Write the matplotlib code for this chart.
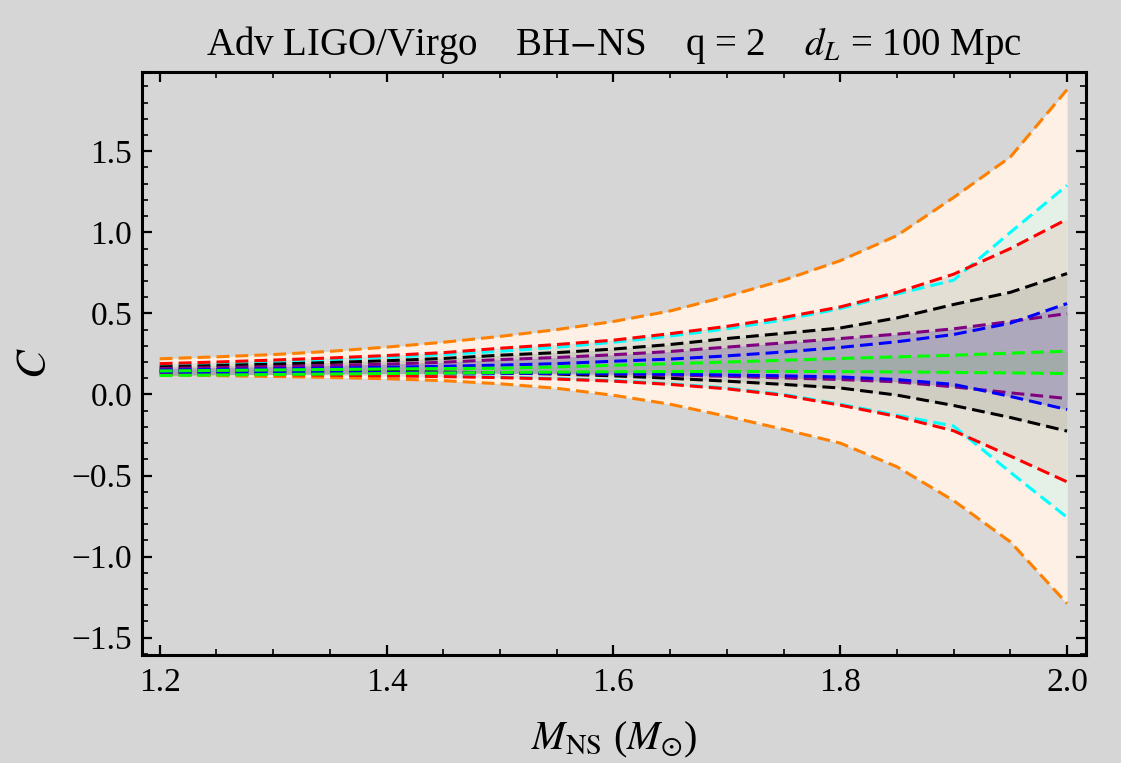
import matplotlib
matplotlib.use("Agg")
import matplotlib.pyplot as plt
from matplotlib.ticker import MultipleLocator, FuncFormatter

plt.rcParams['font.family'] = ['Liberation Serif', 'DejaVu Serif']
plt.rcParams['mathtext.fontset'] = 'stix'

# ---- data ----
m_ns = [1.2, 1.25, 1.3, 1.35, 1.4, 1.45, 1.5, 1.55, 1.6, 1.65, 1.7, 1.75, 1.8, 1.85, 1.9, 1.95, 2.0]

orange_u = [0.220, 0.232, 0.246, 0.266, 0.292, 0.322, 0.358, 0.400, 0.450, 0.515, 0.605, 0.705, 0.825, 0.980, 1.215, 1.465, 1.880]
orange_l = [0.120, 0.116, 0.111, 0.105, 0.097, 0.085, 0.066, 0.038, -0.005, -0.060, -0.135, -0.215, -0.300, -0.446, -0.655, -0.909, -1.290]

cyan_u = [0.180, 0.190, 0.201, 0.214, 0.229, 0.246, 0.266, 0.291, 0.322, 0.360, 0.405, 0.460, 0.530, 0.620, 0.705, 1.000, 1.290]
cyan_l = [0.130, 0.128, 0.126, 0.123, 0.119, 0.114, 0.107, 0.098, 0.086, 0.066, 0.040, 0.000, -0.060, -0.128, -0.195, -0.480, -0.758]

red_u = [0.190, 0.200, 0.212, 0.225, 0.240, 0.258, 0.285, 0.308, 0.335, 0.375, 0.420, 0.475, 0.540, 0.630, 0.742, 0.900, 1.081]
red_l = [0.127, 0.125, 0.122, 0.119, 0.115, 0.110, 0.104, 0.095, 0.082, 0.062, 0.035, -0.005, -0.066, -0.136, -0.224, -0.380, -0.539]

black_u = [0.170, 0.178, 0.187, 0.197, 0.208, 0.222, 0.242, 0.258, 0.280, 0.308, 0.345, 0.377, 0.410, 0.472, 0.555, 0.630, 0.746]
black_l = [0.150, 0.149, 0.147, 0.145, 0.142, 0.138, 0.133, 0.126, 0.115, 0.100, 0.082, 0.062, 0.040, -0.004, -0.068, -0.142, -0.226]

purple_u = [0.160, 0.166, 0.172, 0.179, 0.187, 0.199, 0.215, 0.228, 0.245, 0.265, 0.292, 0.318, 0.345, 0.372, 0.405, 0.450, 0.499]
purple_l = [0.140, 0.139, 0.138, 0.137, 0.136, 0.135, 0.133, 0.130, 0.126, 0.120, 0.112, 0.102, 0.092, 0.078, 0.047, 0.010, -0.025]

blue_u = [0.150, 0.154, 0.158, 0.163, 0.168, 0.174, 0.181, 0.190, 0.205, 0.218, 0.238, 0.262, 0.290, 0.325, 0.370, 0.440, 0.561]
blue_l = [0.138, 0.137, 0.136, 0.135, 0.134, 0.133, 0.132, 0.130, 0.128, 0.125, 0.120, 0.115, 0.108, 0.092, 0.062, -0.012, -0.093]

green_u = [0.145, 0.148, 0.151, 0.154, 0.157, 0.160, 0.162, 0.170, 0.180, 0.190, 0.200, 0.211, 0.222, 0.232, 0.242, 0.255, 0.267]
green_l = [0.117, 0.120, 0.123, 0.126, 0.129, 0.132, 0.136, 0.138, 0.140, 0.141, 0.142, 0.142, 0.141, 0.139, 0.136, 0.133, 0.129]

bands = [
    (orange_u, orange_l, "#FF8000", "#FEF0E4"),
    (cyan_u, cyan_l, "#00FFFF", "#E5F1E7"),
    (red_u, red_l, "#FF0000", "#E4DFD5"),
    (black_u, black_l, "#000000", "#CFCCC2"),
    (purple_u, purple_l, "#800080", "#B0A7BA"),
    (blue_u, blue_l, "#0000FF", "#AEA8BC"),
    (green_u, green_l, "#00FF00", "#A3AAAA"),
]

bg = "#D6D6D6"
fig = plt.figure(figsize=(11.21, 7.63), dpi=100, facecolor=bg)
ax = fig.add_axes([142/1121, 1 - 655/763, (1086-142)/1121, (655-72)/763])
ax.set_facecolor(bg)

for up, lo, lc, fc in bands:
    ax.fill_between(m_ns, lo, up, color=fc, linewidth=0, zorder=1)

for up, lo, lc, fc in bands:
    for ys in (up, lo):
        ax.plot(m_ns, ys, color=lc, lw=2.2, dashes=(4.2, 2.0), zorder=3)

ax.set_xlim(1.1844, 2.0167)
ax.set_ylim(-1.607, 1.989)

fmt = FuncFormatter(lambda v, p: ('%.1f' % v).replace('-', '\u2212'))
ax.xaxis.set_major_locator(MultipleLocator(0.2))
ax.xaxis.set_minor_locator(MultipleLocator(0.05))
ax.yaxis.set_major_locator(MultipleLocator(0.5))
ax.yaxis.set_minor_locator(MultipleLocator(0.1))
ax.xaxis.set_major_formatter(fmt)
ax.yaxis.set_major_formatter(fmt)

ax.tick_params(which='both', direction='in', top=True, right=True, labelsize=24, colors='black')
ax.tick_params(axis='y', which='both', pad=7)
ax.tick_params(axis='x', which='both', pad=9)
ax.tick_params(which='major', length=7, width=1.6)
ax.tick_params(which='minor', length=4, width=1.2)
for s in ax.spines.values():
    s.set_linewidth(2.2)
    s.set_color('black')

ax.set_title(r"Adv LIGO/Virgo    BH$-$NS    q = 2    $d_L$ = 100 Mpc", fontsize=28, pad=12)
ax.set_xlabel(r"$M_{\mathrm{NS}}$ ($M_{\odot}$)", fontsize=29, labelpad=16)
ax.set_ylabel(r"$C$", fontsize=31, labelpad=12)

fig.savefig("out.png", dpi=100, facecolor=bg)
